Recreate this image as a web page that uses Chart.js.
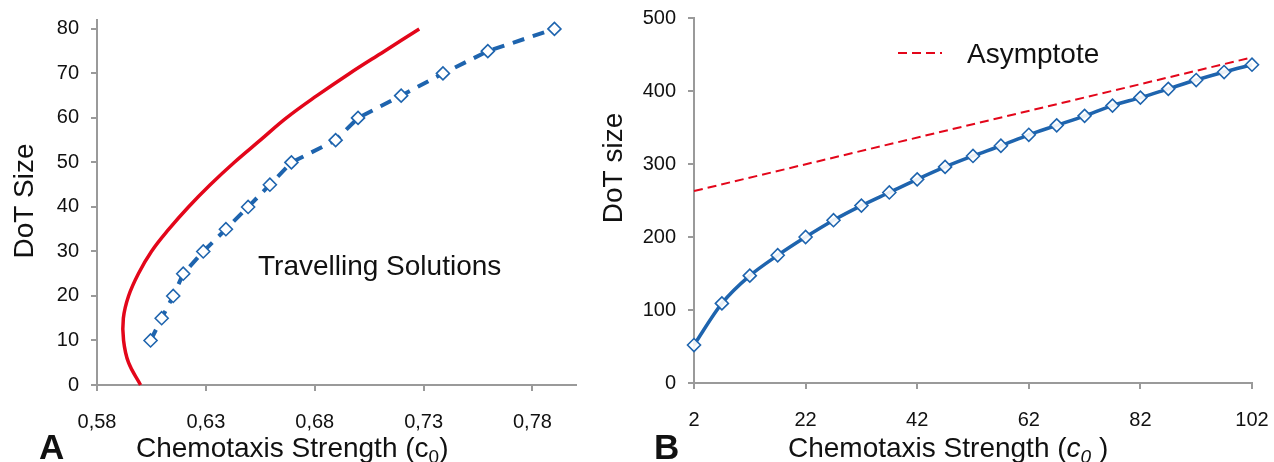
<!DOCTYPE html>
<html><head><meta charset="utf-8">
<script src="https://cdn.jsdelivr.net/npm/chart.js@4.4.1/dist/chart.umd.min.js"></script>
<style>
html,body{margin:0;padding:0;background:#fff;width:1274px;height:462px;overflow:hidden}
.wrap{position:absolute;top:0}
canvas{display:block}
</style></head><body>
<div class="wrap" style="left:0px;width:600px;height:462px"><canvas id="cA" width="600" height="462"></canvas></div>
<div class="wrap" style="left:580px;width:694px;height:462px"><canvas id="cB" width="694" height="462"></canvas></div>
<script>
// ---------- Panel A data ----------
const redSizeA = [0,5,10,15,20,25,30,35,40,45,50,55,60,65,70,75,80];
const redC0A   = [0.600,0.5945,0.5922,0.5921,0.5945,0.599,0.605,0.613,0.622,0.632,0.643,0.655,0.667,0.681,0.696,0.712,0.728];
const blueSizeA = [10,15,20,25,30,35,40,45,50,55,60,65,70,75,80];
const blueC0A   = [0.6046,0.6097,0.615,0.6196,0.6288,0.6392,0.6494,0.6594,0.6693,0.6896,0.6999,0.7197,0.7389,0.7595,0.7901];
const xTicksA = [0.58,0.63,0.68,0.73,0.78];
const xTickLabelsA = ['0,58','0,63','0,68','0,73','0,78'];
const yTicksA = [0,10,20,30,40,50,60,70,80];

// ---------- Panel B data ----------
const c0B = [2,7,12,17,22,27,32,37,42,47,52,57,62,67,72,77,82,87,92,97,102];
const sizeB = [52,109,147,175,200,223,243,261,279,296,311,325,340,353,366,380,391,403,415,426,436];
const asymC0B = [2,102];
const asymSizeB = [263,446];
const xTicksB = [2,22,42,62,82,102];
const yTicksB = [0,100,200,300,400,500];

const FONT = '"Liberation Sans", Arial, sans-serif';
const AXIS = '#9a9a9a';
const BLUE = '#1E64AE';
const RED = '#E3061A';
const TXT = '#111111';

function pts(xs, ys){ return xs.map((x,i)=>({x:x, y:ys[i]})); }

function textPlugin(items, ox, extra){
  return {
    id:'texts',
    afterDraw(chart){
      const ctx = chart.ctx;
      items.forEach(it=>{
        ctx.save();
        ctx.translate(it.x-ox, it.y);
        if(it.rotate) ctx.rotate(it.rotate);
        ctx.fillStyle = TXT;
        ctx.textBaseline = 'alphabetic';
        ctx.textAlign = 'left';
        let total = 0;
        it.parts.forEach(p=>{ ctx.font = p.font; total += ctx.measureText(p.t).width; });
        let x = it.align==='center' ? -total/2 : 0;
        it.parts.forEach(p=>{ ctx.font = p.font; ctx.fillText(p.t, x, p.dy||0); x += ctx.measureText(p.t).width; });
        ctx.restore();
      });
      if(extra) extra(ctx, ox);
    }
  };
}

function noPad(s){ s.paddingTop = 0; s.paddingBottom = 0; s.paddingLeft = 0; s.paddingRight = 0; }

function xAxis(min, max, ticks, labels, h){
  return {
    type:'linear', position:'bottom', min:min, max:max,
    afterBuildTicks: s => { s.ticks = ticks.map(v=>({value:v})); },
    afterFit: s => { s.height = h; noPad(s); },
    grid:{display:true, drawOnChartArea:false, drawTicks:true, tickLength:6, color:AXIS, lineWidth:2},
    border:{display:true, color:AXIS, width:2},
    ticks:{color:TXT, font:{family:FONT, size:20}, padding:19, autoSkip:false, maxRotation:0, minRotation:0,
      callback:(v,i)=> labels ? labels[i] : String(v)}
  };
}
function yAxis(min, max, ticks, w){
  return {
    type:'linear', position:'left', min:min, max:max,
    afterBuildTicks: s => { s.ticks = ticks.map(v=>({value:v})); },
    afterFit: s => { s.width = w; noPad(s); },
    grid:{display:true, drawOnChartArea:false, drawTicks:true, tickLength:6, color:AXIS, lineWidth:2},
    border:{display:true, color:AXIS, width:2},
    ticks:{color:TXT, font:{family:FONT, size:20}, padding:12, autoSkip:false, callback:v=>String(v)}
  };
}

const F28 = '28px '+FONT, F19 = '19px '+FONT;

// ---------- Chart A ----------
const oxA = 0;
new Chart(document.getElementById('cA'), {
  type:'scatter',
  data:{datasets:[
    {data:pts(redC0A, redSizeA), showLine:true, borderColor:RED, borderWidth:3.5, pointRadius:0, tension:0.4, clip:false},
    {data:pts(blueC0A, blueSizeA), showLine:true, borderColor:BLUE, borderWidth:4, borderDash:[12,9], tension:0,
     pointStyle:'rectRot', pointRadius:6.5, pointBorderWidth:1.6, pointBackgroundColor:'#ffffff', pointBorderColor:BLUE, clip:false}
  ]},
  options:{
    responsive:false, animation:false, devicePixelRatio:1,
    layout:{padding:{left:0, top:20, right:24, bottom:0}},
    plugins:{legend:{display:false}, tooltip:{enabled:false}},
    scales:{ x:xAxis(0.58, 0.80, xTicksA, xTickLabelsA, 77), y:yAxis(0, 82, yTicksA, 97) }
  },
  plugins:[textPlugin([
    {x:33, y:201, rotate:-Math.PI/2, align:'center', parts:[{t:'DoT Size', font:F28}]},
    {x:258, y:275, parts:[{t:'Travelling Solutions', font:F28}]},
    {x:136, y:457, parts:[{t:'Chemotaxis Strength (c', font:F28},{t:'0', font:F19, dy:6},{t:')', font:F28}]},
    {x:39, y:459, parts:[{t:'A', font:'bold 35px '+FONT}]}
  ], oxA)]
});

// ---------- Chart B ----------
const oxB = 580;
new Chart(document.getElementById('cB'), {
  type:'scatter',
  data:{datasets:[
    {data:pts(asymC0B, asymSizeB), showLine:true, borderColor:RED, borderWidth:2, borderDash:[9,5], pointRadius:0, tension:0, clip:false},
    {data:pts(c0B, sizeB), showLine:true, borderColor:BLUE, borderWidth:3.5, tension:0.3,
     pointStyle:'rectRot', pointRadius:6.5, pointBorderWidth:1.6, pointBackgroundColor:'rgba(255,255,255,0.9)', pointBorderColor:BLUE, clip:false}
  ]},
  options:{
    responsive:false, animation:false, devicePixelRatio:1,
    layout:{padding:{left:0, top:18, right:22, bottom:0}},
    plugins:{legend:{display:false}, tooltip:{enabled:false}},
    scales:{ x:xAxis(2, 102, xTicksB, null, 79), y:yAxis(0, 500, yTicksB, 114) }
  },
  plugins:[textPlugin([
    {x:622, y:168, rotate:-Math.PI/2, align:'center', parts:[{t:'DoT size', font:F28}]},
    {x:967, y:63, parts:[{t:'Asymptote', font:F28}]},
    {x:788, y:457, parts:[{t:'Chemotaxis Strength (', font:F28},{t:'c', font:'italic '+F28},{t:'0', font:'italic '+F19, dy:6},{t:' )', font:F28}]},
    {x:654, y:459, parts:[{t:'B', font:'bold 35px '+FONT}]}
  ], oxB, (ctx, ox)=>{
    ctx.save();
    ctx.strokeStyle = RED; ctx.lineWidth = 2; ctx.setLineDash([9,5]);
    ctx.beginPath(); ctx.moveTo(898-ox, 53); ctx.lineTo(942-ox, 53); ctx.stroke();
    ctx.restore();
  })]
});
</script>
</body></html>
